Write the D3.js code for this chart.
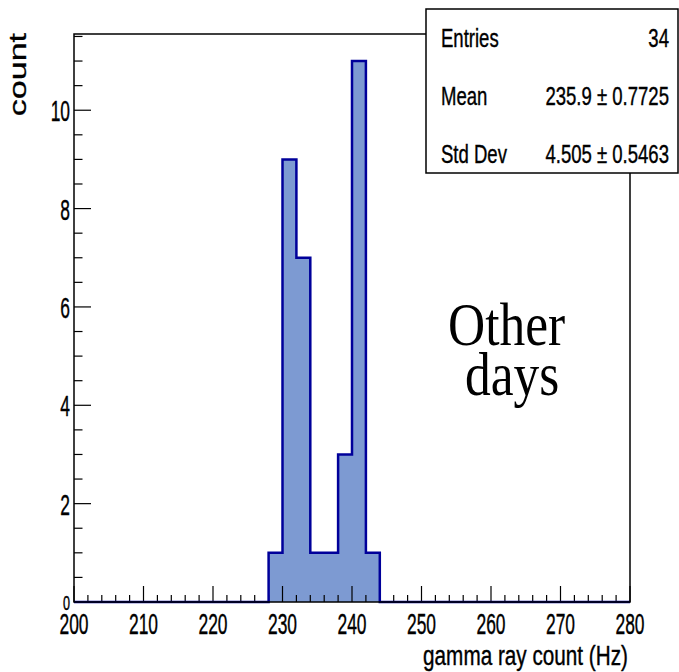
<!DOCTYPE html>
<html>
<head>
<meta charset="utf-8">
<script src="https://cdn.jsdelivr.net/npm/d3@7"></script>
<style>
  body { margin: 0; background: #fff; }
  text { font-family: "Liberation Sans", Arial, sans-serif; fill: #000; }
  .sans { stroke: #000; stroke-width: 0.4px; }
</style>
</head>
<body>
<div id="container"></div>
<script>
// canvas size
let w = 679;
let h = 672;

// histogram data: bin low edges, bin width, contents
let binLows = [228, 230, 232, 234, 236, 238, 240, 242];
let binWidth = 2;
let counts = [1, 9, 7, 1, 1, 3, 11, 1];

// axis ticks
let xTicks = [200, 210, 220, 230, 240, 250, 260, 270, 280];
let yTicks = [0, 2, 4, 6, 8, 10];

// stats box
let statLabels = ["Entries", "Mean", "Std Dev"];
let statValues = ["34", "235.9 \u00b1 0.7725", "4.505 \u00b1 0.5463"];

// annotation
let noteLines = ["Other", "days"];

// frame of the pad
let padL = 74, padR = 630, padT = 34, padB = 602;

let x = d3.scaleLinear().domain([200, 280]).range([padL, padR]);
let y = d3.scaleLinear().domain([0, 11.55]).range([padB, padT]);

let svg = d3.select("#container")
  .append("svg")
  .attr("width", w)
  .attr("height", h);

// build step points, empty range included so the outline runs along the floor
let pts = [[200, 0]];
for (let i = 0; i < binLows.length; i++) {
  pts.push([binLows[i], counts[i]]);
}
pts.push([binLows[binLows.length - 1] + binWidth, 0]);
pts.push([280, 0]);

let area = d3.area()
  .curve(d3.curveStepAfter)
  .x(function(d) { return x(d[0]); })
  .y0(y(0))
  .y1(function(d) { return y(d[1]); });

let line = d3.line()
  .curve(d3.curveStepAfter)
  .x(function(d) { return x(d[0]); })
  .y(function(d) { return y(d[1]); });

svg.append("path")
  .attr("d", area(pts))
  .attr("fill", "#7d9ad2");

// ticks along bottom (inside the frame)
let xMinor = d3.range(200, 281, 2);
svg.selectAll(".xtick")
  .data(xMinor)
  .enter()
  .append("line")
    .attr("x1", function(d) { return x(d); })
    .attr("x2", function(d) { return x(d); })
    .attr("y1", padB)
    .attr("y2", function(d) { return d % 10 == 0 ? padB - 16 : padB - 7; })
    .attr("stroke", "#000")
    .attr("stroke-width", 1.2);

// ticks on left axis
let yMinor = d3.range(0, 11.55, 0.5);
svg.selectAll(".ytick")
  .data(yMinor)
  .enter()
  .append("line")
    .attr("x1", padL)
    .attr("x2", function(d) { return d % 2 == 0 ? padL + 17 : padL + 8.5; })
    .attr("y1", function(d) { return y(d); })
    .attr("y2", function(d) { return y(d); })
    .attr("stroke", "#000")
    .attr("stroke-width", 1.2);

svg.append("path")
  .attr("d", line(pts))
  .attr("fill", "none")
  .attr("stroke", "#00009a")
  .attr("stroke-width", 2.5);

// frame
svg.append("rect")
  .attr("x", padL)
  .attr("y", padT)
  .attr("width", padR - padL)
  .attr("height", padB - padT)
  .attr("fill", "none")
  .attr("stroke", "#000")
  .attr("stroke-width", 1.5);

// tick labels (the picture is squeezed sideways, so scale x)
svg.selectAll(".xlab")
  .data(xTicks)
  .enter()
  .append("g")
    .attr("transform", function(d) { return "translate(" + x(d) + "," + 634 + ")"; })
  .append("text")
    .attr("class", "sans")
    .attr("transform", "scale(0.6,1)")
    .attr("text-anchor", "middle")
    .style("font-size", "29px")
    .text(function(d) { return d; });

// the zero label is drawn smaller in the original
svg.selectAll(".ylab")
  .data(yTicks)
  .enter()
  .append("g")
    .attr("transform", function(d) { return "translate(" + 70 + "," + (y(d) + (d == 0 ? 8 : 11)) + ")"; })
  .append("text")
    .attr("class", "sans")
    .attr("transform", "scale(0.6,1)")
    .attr("text-anchor", "end")
    .style("font-size", function(d) { return d == 0 ? "21px" : "29px"; })
    .text(function(d) { return d; });

// axis titles
svg.append("g")
  .attr("transform", "translate(628,665)")
  .append("text")
    .attr("class", "sans")
    .attr("transform", "scale(0.74,1)")
    .attr("text-anchor", "end")
    .style("font-size", "28px")
    .text("gamma ray count (Hz)");

svg.append("g")
  .attr("transform", "translate(26,33)")
  .append("text")
    .attr("class", "sans")
    .attr("transform", "rotate(-90) scale(1,0.72)")
    .attr("text-anchor", "end")
    .style("font-size", "34px")
    .text("count");

// stats box
svg.append("rect")
  .attr("x", 426)
  .attr("y", 9)
  .attr("width", 252)
  .attr("height", 164)
  .attr("fill", "#fff")
  .attr("stroke", "#000")
  .attr("stroke-width", 1.5);

let rows = svg.selectAll(".stat")
  .data(statLabels)
  .enter()
  .append("g")
    .attr("transform", function(d, i) { return "translate(0," + (47 + i * 58) + ")"; });

rows.append("g")
  .attr("transform", "translate(441,0)")
  .append("text")
    .attr("class", "sans")
    .attr("transform", "scale(0.7,1)")
    .style("font-size", "26.5px")
    .text(function(d) { return d; });

rows.append("g")
  .attr("transform", "translate(669,0)")
  .append("text")
    .attr("class", "sans")
    .attr("transform", "scale(0.7,1)")
    .attr("text-anchor", "end")
    .style("font-size", "26.5px")
    .text(function(d, i) { return statValues[i]; });

// "Other days" note
svg.selectAll(".note")
  .data(noteLines)
  .enter()
  .append("g")
    .attr("transform", function(d, i) { return "translate(" + (i == 0 ? 448 : 465) + "," + (345 + i * 50) + ")"; })
  .append("text")
    .attr("transform", "scale(0.83,1)")
    .style("font-family", "'Liberation Serif', serif")
    .style("font-size", "62px")
    .text(function(d) { return d; });
</script>
</body>
</html>
